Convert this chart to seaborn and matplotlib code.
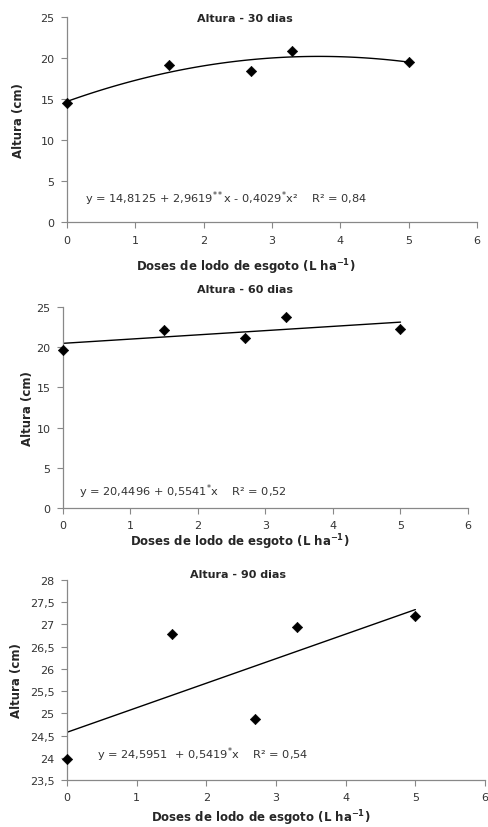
import matplotlib
matplotlib.use("Agg")
import matplotlib.pyplot as plt
import seaborn as sns
import pandas as pd
from matplotlib.ticker import FuncFormatter

sns.set_theme(style="white")
plt.rcParams['font.family'] = ['DejaVu Sans']
plt.rcParams['mathtext.fontset'] = 'dejavusans'

doses = [0, 1.5, 2.7, 3.3, 5]
altura_30 = [14.5, 19.1, 18.4, 20.9, 19.5]
altura_60 = [19.7, 22.2, 21.1, 23.7, 22.3]
altura_90 = [23.97, 26.78, 24.87, 26.95, 27.2]

titles = ["Altura - 30 dias", "Altura - 60 dias", "Altura - 90 dias"]
equations = [r"y = 14,8125 + 2,9619$^{**}$x - 0,4029$^{*}$x²    R² = 0,84",
             r"y = 20,4496 + 0,5541$^{*}$x    R² = 0,52",
             r"y = 24,5951  + 0,5419$^{*}$x    R² = 0,54"]
fit_orders = [2, 1, 1]
yticks_list = [[0, 5, 10, 15, 20, 25], [0, 5, 10, 15, 20, 25],
               [23.5, 24, 24.5, 25, 25.5, 26, 26.5, 27, 27.5, 28]]
xticks = [0, 1, 2, 3, 4, 5, 6]
xlabel = "Doses de lodo de esgoto (L ha$^{\\mathbf{-1}}$)"
ylabel = "Altura (cm)"

W, H = 489, 828
fig = plt.figure(figsize=(W / 100, H / 100), dpi=100)

# axes rectangles in pixels: left, top, right, bottom
rects = [(67, 18, 477, 223), (63, 308, 468, 509), (67, 581, 485, 781)]
title_pos = [(245, 19), (245, 290), (238, 575)]
eq_pos = [(85, 199), (79, 492), (97, 755)]
xlabel_y = [267, 542, 818]
xlabel_x = [246, 240, 261]
ylabel_pads = [11, 2, 5]

series = [altura_30, altura_60, altura_90]
gray = "#888888"

def fmt(v, p):
    return ("%g" % v).replace(".", ",")

for i in range(3):
    l, t, r, b = rects[i]
    ax = fig.add_axes([l / W, 1 - b / H, (r - l) / W, (b - t) / H])
    df = pd.DataFrame({"dose": doses, "altura": series[i]})
    sns.regplot(data=df, x="dose", y="altura", order=fit_orders[i], ci=None,
                scatter=False, truncate=True, ax=ax,
                line_kws=dict(color="black", lw=1.0))
    sns.scatterplot(data=df, x="dose", y="altura", marker="D", s=28,
                    color="black", edgecolor="black", ax=ax, zorder=5,
                    clip_on=False)
    ax.set_xlim(0, 6)
    yt = yticks_list[i]
    ax.set_ylim(yt[0], yt[-1])
    ax.set_yticks(yt)
    ax.set_xticks(xticks)
    ax.yaxis.set_major_formatter(FuncFormatter(fmt))
    ax.set_xlabel("")
    ax.set_ylabel(ylabel, fontsize=8.5, fontweight="bold",
                  labelpad=ylabel_pads[i])
    for s in ["top", "right"]:
        ax.spines[s].set_visible(False)
    for s in ["left", "bottom"]:
        ax.spines[s].set_color(gray)
        ax.spines[s].set_linewidth(0.9)
    ax.tick_params(axis="both", which="major", direction="out", length=4,
                   width=0.8, color=gray, labelsize=8, labelcolor="#333333",
                   left=True, bottom=True, pad=5)
    fig.text(title_pos[i][0] / W, 1 - title_pos[i][1] / H, titles[i],
             ha="center", va="center", fontsize=8, fontweight="bold")
    fig.text(eq_pos[i][0] / W, 1 - eq_pos[i][1] / H, equations[i],
             ha="left", va="center", fontsize=8.2, color="#333333")
    fig.text(xlabel_x[i] / W, 1 - xlabel_y[i] / H,
             xlabel, ha="center", va="center", fontsize=8.5, fontweight="bold")

fig.savefig("out.png", dpi=100)
